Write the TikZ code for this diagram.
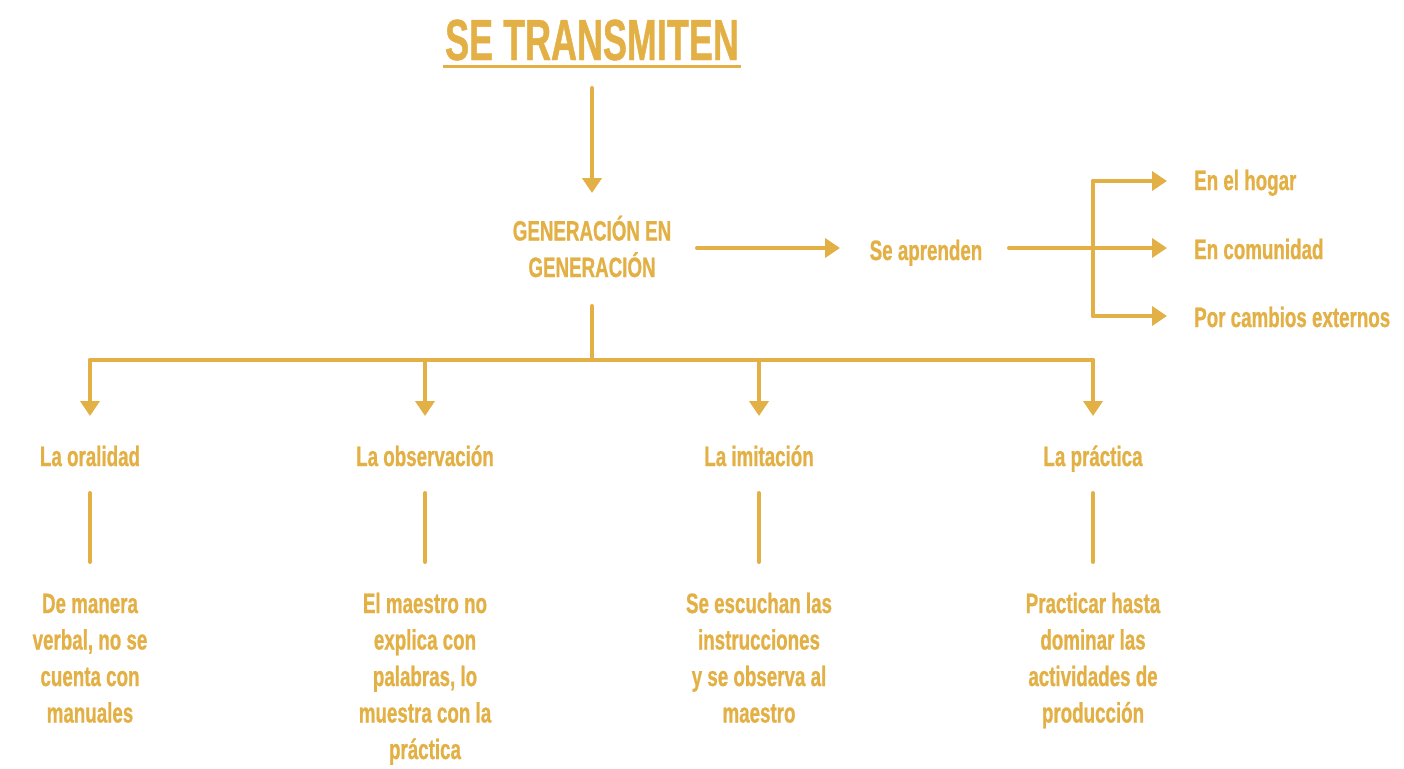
\documentclass[tikz,border=0pt]{standalone}
\usepackage{fontspec}
\setmainfont{Liberation Sans}
\newfontfamily\bodyfont{Liberation Sans Bold}[FakeStretch=0.67, FakeBold=0.8]
\newfontfamily\titlefont{Liberation Sans Bold}[FakeStretch=0.62, FakeBold=0.8]
\usetikzlibrary{arrows.meta}
\definecolor{gold}{HTML}{E3B045}
\tikzset{
  conn/.style={draw=gold, line width=4pt, line cap=round, line join=round},
  arr/.style={conn, -{Triangle[width=19pt,length=15pt]}},
  lbl/.style={text=gold, font=\bodyfont\fontsize{28}{36.5}\selectfont, inner sep=0pt, anchor=base, align=center},
  lblw/.style={lbl, anchor=base west},
  ttl/.style={text=gold, font=\titlefont\fontsize{58}{60}\selectfont, inner sep=0pt, anchor=base}
}
\begin{document}
\begin{tikzpicture}[x=1pt,y=-1pt]
\useasboundingbox (0,0) rectangle (1404,768);
% title
\node[ttl] (title) at (592,60) {SE TRANSMITEN};
\coordinate (ulL) at (443,66);
\coordinate (ulR) at (741,66);
\draw[draw=gold, line width=3pt] (ulL) -- (ulR);
\coordinate (a1s) at (592,88);
\coordinate (a1e) at (592,193);
\draw[arr] (a1s) -- (a1e);
% generacion (base anchor = last line baseline)
\node[lbl] (gen) at (592,277) {GENERACIÓN EN\\GENERACIÓN};
\node[lbl] (apr) at (926,260) {Se aprenden};
\coordinate (g1) at (697,248);
\coordinate (g2) at (840,248);
\draw[arr] (g1) -- (g2);
% right branch
\coordinate (r0) at (1009,248);
\coordinate (rb) at (1093,248);
\coordinate (rt) at (1093,181);
\coordinate (rbt) at (1093,316);
\coordinate (e1) at (1167,181);
\coordinate (e2) at (1167,248);
\coordinate (e3) at (1167,316);
\draw[conn] (r0) -- (rb);
\draw[conn] (rt) -- (rbt);
\draw[arr] (rt) -- (e1);
\draw[arr] (rb) -- (e2);
\draw[arr] (rbt) -- (e3);
\node[lblw] (hog) at (1194,190) {En el hogar};
\node[lblw] (com) at (1194,259) {En comunidad};
\node[lblw] (ext) at (1194,327) {Por cambios externos};
% bottom tree
\coordinate (v0) at (592,306);
\coordinate (v1) at (592,360);
\draw[conn] (v0) -- (v1);
\coordinate (hL) at (90,360);
\coordinate (hR) at (1093,360);
\draw[conn] (hL) -- (hR);
\foreach \x/\n in {90/a,425/b,759/c,1093/d} {
  \coordinate (t\n) at (\x,360);
  \coordinate (d\n) at (\x,416);
  \draw[arr] (t\n) -- (d\n);
  \coordinate (s\n) at (\x,493);
  \coordinate (e\n) at (\x,562);
  \draw[conn] (s\n) -- (e\n);
}
\node[lbl] (ora) at (90,466) {La oralidad};
\node[lbl] (obs) at (425,466) {La observación};
\node[lbl] (imi) at (759,466) {La imitación};
\node[lbl] (pra) at (1093,466) {La práctica};
\node[lbl] (ora2) at (90,722.5) {De manera\\verbal, no se\\cuenta con\\manuales};
\node[lbl] (obs2) at (425,759) {El maestro no\\explica con\\palabras, lo\\muestra con la\\práctica};
\node[lbl] (imi2) at (759,722.5) {Se escuchan las\\instrucciones\\y se observa al\\maestro};
\node[lbl] (pra2) at (1093,722.5) {Practicar hasta\\dominar las\\actividades de\\producción};
\end{tikzpicture}
\end{document}
